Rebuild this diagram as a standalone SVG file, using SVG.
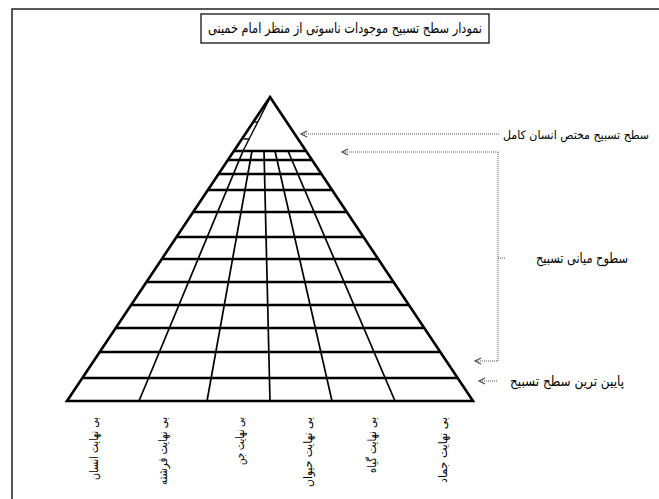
<svg xmlns="http://www.w3.org/2000/svg" width="659" height="499" viewBox="0 0 659 499">
<defs>
<marker id="arr" markerUnits="userSpaceOnUse" markerWidth="12" markerHeight="12" viewBox="-8 -6 12 12" refX="0" refY="0" orient="auto" overflow="visible">
<path d="M-6,-3 L0,0 L-6,3" fill="none" stroke="#444" stroke-width="1.1"/>
</marker>
<style>
.frame{fill:none;stroke:#222;stroke-width:1.5}
.box{fill:#fff;stroke:#111;stroke-width:1.3}
.edge{fill:none;stroke:#000;stroke-width:2.6;stroke-linejoin:miter}
.h{stroke:#000;stroke-width:2.3}
.v{stroke:#000;stroke-width:1.7}
.s{stroke:#000;stroke-width:1.4}
.dot{fill:none;stroke:#555;stroke-width:1;stroke-dasharray:1 1}
.t{font-family:"DejaVu Sans",sans-serif;fill:#000}
.lab{font-size:14px}
.bot{font-size:12px}
</style>
</defs>
<rect width="659" height="499" fill="#fff"/>
<path class="frame" d="M12,499 L12,9 L659,9"/>

<g id="title">
<rect class="box" x="201" y="14" width="288" height="29"/>
<text class="t" x="345" y="33" font-size="14" text-anchor="middle" textLength="274" lengthAdjust="spacingAndGlyphs">نمودار سطح تسبیح موجودات ناسوتی از منظر امام خمینی</text>
</g>

<g id="pyramid">
<g id="grid-h">
<line class="h" x1="82.4" y1="378" x2="457.6" y2="378"/>
<line class="h" x1="99.7" y1="352" x2="440.3" y2="352"/>
<line class="h" x1="115.7" y1="328" x2="424.3" y2="328"/>
<line class="h" x1="131.1" y1="305" x2="408.9" y2="305"/>
<line class="h" x1="146.5" y1="282" x2="393.5" y2="282"/>
<line class="h" x1="161.8" y1="259" x2="378.2" y2="259"/>
<line class="h" x1="176.5" y1="237" x2="363.5" y2="237"/>
<line class="h" x1="193.2" y1="212" x2="346.8" y2="212"/>
<line class="h" x1="207.9" y1="190" x2="332.1" y2="190"/>
<line class="h" x1="218.6" y1="174" x2="321.4" y2="174"/>
<line class="h" x1="227.9" y1="160" x2="312.1" y2="160"/>
<line class="h" x1="233.9" y1="151" x2="305" y2="151"/>
</g>
<g id="grid-v">
<line class="v" x1="243" y1="151" x2="139" y2="401"/>
<line class="v" x1="252" y1="151" x2="207" y2="401"/>
<line class="v" x1="264" y1="151" x2="270" y2="401"/>
<line class="v" x1="275" y1="151" x2="332" y2="401"/>
<line class="v" x1="288" y1="151" x2="395" y2="401"/>
</g>
<g id="apex-strip">
<line class="s" x1="269.5" y1="99" x2="243" y2="151"/>
<line class="s" x1="254" y1="122" x2="258" y2="122"/>
<line class="s" x1="243.5" y1="139" x2="249.5" y2="139"/>
</g>
<path class="edge" d="M270,97 L473,401 L67,401 Z"/>
</g>

<g id="connectors">
<path class="dot" d="M499,134 L301,134" marker-end="url(#arr)"/>
<path class="dot" d="M498,152 L342,152" marker-end="url(#arr)"/>
<path class="dot" d="M498,152 L498,361 L475,361" marker-end="url(#arr)"/>
<path class="dot" d="M498,258 L505,258"/>
<path class="dot" d="M497,381 L479,381" marker-end="url(#arr)"/>
</g>

<g id="label-kamel">
<text class="t" font-size="11.5" x="649" y="139" text-anchor="end" textLength="146" lengthAdjust="spacingAndGlyphs">سطح تسبیح مختص انسان کامل</text>
</g>
<g id="label-miani">
<text class="t lab" x="536" y="263" textLength="92" lengthAdjust="spacingAndGlyphs">سطوح میانی تسبیح</text>
</g>
<g id="label-paein">
<text class="t lab" x="510" y="386" textLength="114" lengthAdjust="spacingAndGlyphs">پایین ترین سطح تسبیح</text>
</g>

<g id="bottom-labels">
<g id="b-ensan"><text class="t bot" transform="translate(98,417) rotate(-90)" text-anchor="end" textLength="63" lengthAdjust="spacingAndGlyphs">بی نهایت انسان</text></g>
<g id="b-fereshteh"><text class="t bot" transform="translate(167,417) rotate(-90)" text-anchor="end" textLength="68" lengthAdjust="spacingAndGlyphs">بی نهایت فرشته</text></g>
<g id="b-jen"><text class="t bot" transform="translate(244,417) rotate(-90)" text-anchor="end" textLength="48" lengthAdjust="spacingAndGlyphs">بی نهایت جن</text></g>
<g id="b-heyvan"><text class="t bot" transform="translate(312,417) rotate(-90)" text-anchor="end" textLength="70" lengthAdjust="spacingAndGlyphs">بی نهایت حیوان</text></g>
<g id="b-giah"><text class="t bot" transform="translate(376,417) rotate(-90)" text-anchor="end" textLength="56" lengthAdjust="spacingAndGlyphs">بی نهایت گیاه</text></g>
<g id="b-jamad"><text class="t bot" transform="translate(447,417) rotate(-90)" text-anchor="end" textLength="66" lengthAdjust="spacingAndGlyphs">بی نهایت جماد</text></g>
</g>
</svg>
